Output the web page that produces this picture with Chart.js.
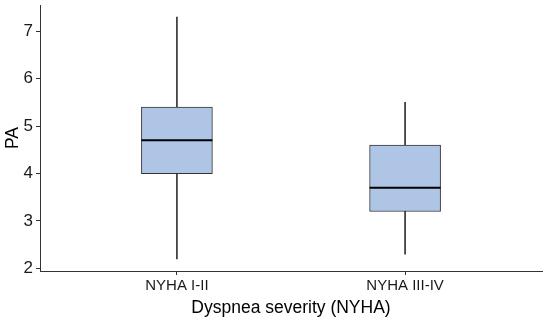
<!DOCTYPE html>
<html>
<head>
<meta charset="utf-8">
<script src="https://cdn.jsdelivr.net/npm/chart.js@4.4.0/dist/chart.umd.min.js"></script>
<style>
  html, body { margin: 0; padding: 0; background: #fff; }
  .chart-wrap { width: 550px; height: 325px; }
</style>
</head>
<body>
<div class="chart-wrap"><canvas id="box-chart"></canvas></div>
<script>
// data
const categories = ["NYHA I-II", "NYHA III-IV"];
const whiskerLow = [2.2, 2.3];
const q1 = [4.0, 3.2];
const median = [4.7, 3.7];
const q3 = [5.4, 4.6];
const whiskerHigh = [7.3, 5.5];
const yTicks = [2, 3, 4, 5, 6, 7];

const boxFill = "#aec5e6";
const lineCol = "#333333";

// box, whisker and median marks all keyed by category position (1, 2)
const boxData = categories.map((c, i) => ({ x: i + 1, y: [q1[i], q3[i]] }));
const whiskerData = categories.map((c, i) => ({ x: i + 1, y: [whiskerLow[i], whiskerHigh[i]] }));
const medianData = categories.map((c, i) => ({ x: i + 1, y: median[i] }));

const ctx = document.getElementById("box-chart");
new Chart(ctx, {
  type: "bar",
  data: {
    datasets: [
      {
        label: "whiskers",
        data: whiskerData,
        backgroundColor: lineCol,
        borderWidth: 0,
        barThickness: 1,
        grouped: false,
        order: 3,
      },
      {
        label: "box",
        data: boxData,
        backgroundColor: boxFill,
        borderColor: lineCol,
        borderWidth: 1,
        borderSkipped: false,
        barThickness: 71,
        grouped: false,
        order: 2,
      },
      {
        type: "line",
        label: "median",
        data: medianData,
        showLine: false,
        pointStyle: "line",
        pointRadius: 35.5,
        pointHoverRadius: 35.5,
        borderColor: "#000",
        pointBorderWidth: 2,
        borderWidth: 2,
        order: 1,
      },
    ],
  },
  options: {
    responsive: true,
    maintainAspectRatio: false,
    animation: false,
    layout: { autoPadding: false, padding: { top: 5, right: 8, left: 0, bottom: 0 } },
    plugins: {
      legend: { display: false },
      tooltip: { enabled: false },
    },
    scales: {
      x: {
        type: "linear",
        min: 0.4,
        max: 2.6,
        offset: false,
        afterBuildTicks: (s) => { s.ticks = categories.map((c, i) => ({ value: i + 1 })); },
        afterFit: (s) => { s.height = 54; },
        ticks: {
          callback: (v) => categories[v - 1],
          color: "#1a1a1a",
          font: { family: "Liberation Sans, Arial", size: 15 },
          padding: 2,
          maxRotation: 0,
          autoSkip: false,
        },
        grid: { offset: false, drawOnChartArea: false, drawTicks: true, tickLength: 4, color: lineCol, lineWidth: 1 },
        border: { display: true, color: lineCol, width: 1 },
        title: {
          display: true,
          text: "Dyspnea severity (NYHA)",
          color: "#000",
          font: { family: "Liberation Sans, Arial", size: 17.5 },
          padding: { top: 2, bottom: 6 },
        },
      },
      y: {
        min: 1.945,
        max: 7.555,
        afterBuildTicks: (s) => { s.ticks = yTicks.map((v) => ({ value: v })); },
        afterFit: (s) => { s.width = 40; s.paddingTop = 0; s.paddingBottom = 0; },
        ticks: {
          color: "#1a1a1a",
          font: { family: "Liberation Sans, Arial", size: 17 },
          padding: 3,
        },
        grid: { drawOnChartArea: false, drawTicks: true, tickLength: 4, color: lineCol, lineWidth: 1 },
        border: { display: true, color: lineCol, width: 1 },
        title: {
          display: true,
          text: "PA",
          color: "#000",
          font: { family: "Liberation Sans, Arial", size: 17.5 },
          padding: { top: 3, bottom: 0 },
        },
      },
    },
  },
});
</script>
</body>
</html>
